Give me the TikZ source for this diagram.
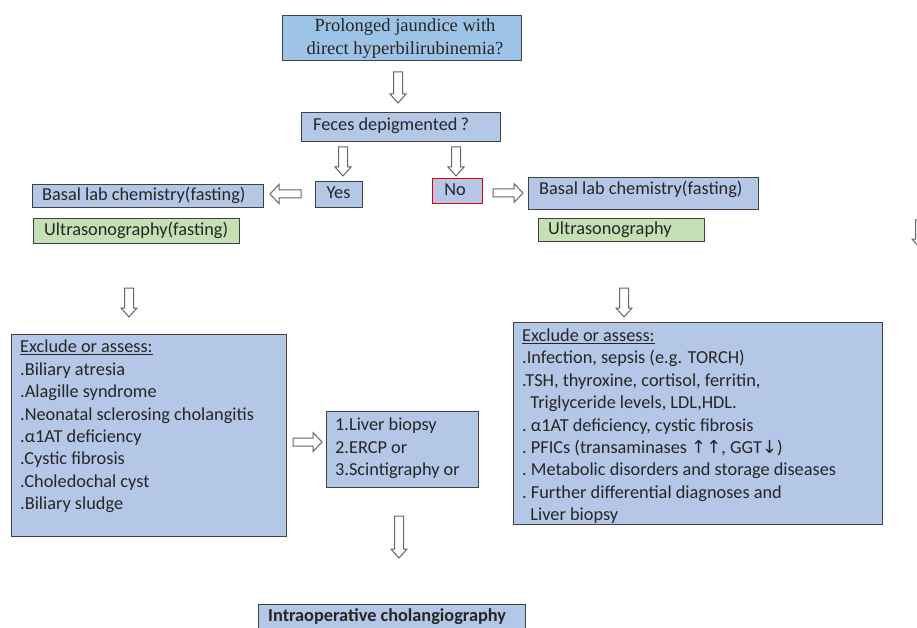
\documentclass[tikz,border=0pt]{standalone}
\usepackage{fontspec}
\setmainfont{Carlito}
\newfontfamily\serifb{Liberation Serif}
\newfontfamily\dvs{DejaVu Sans}
\definecolor{boxblue}{HTML}{B4C7E7}
\definecolor{topblue}{HTML}{9DC3E6}
\definecolor{boxgreen}{HTML}{C5E0B4}
\definecolor{edgecol}{HTML}{404040}
\definecolor{txtcol}{HTML}{262626}
\begin{document}
\begin{tikzpicture}[x=1pt,y=-1pt,
  box/.style={draw=edgecol, line width=0.9pt, fill=boxblue, inner sep=0pt, outer sep=0pt},
  gbox/.style={box, fill=boxgreen},
  txt/.style={font=\fontsize{18.3}{22.4}\selectfont, text=txtcol, inner sep=0pt, align=left},
  arrbody/.style={draw=black!60, line width=1pt, fill=white, line join=miter},
  pics/darr/.style={code={\draw[arrbody] (-4.5,0) -- (-4.5,{#1-9}) -- (-8,{#1-9}) -- (0,#1) -- (8,{#1-9}) -- (4.5,{#1-9}) -- (4.5,0) -- cycle;}},
  pics/rarr/.style={code={\draw[arrbody] (0,-4) -- ({#1-9},-4) -- ({#1-9},-9.5) -- (#1,0) -- ({#1-9},9.5) -- ({#1-9},4) -- (0,4) -- cycle;}},
  pics/larr/.style={code={\draw[arrbody] (0,-4) -- ({-#1+9},-4) -- ({-#1+9},-9.5) -- (-#1,0) -- ({-#1+9},9.5) -- ({-#1+9},4) -- (0,4) -- cycle;}}
]
\useasboundingbox (0,0) rectangle (917,628);
\clip (0,0) rectangle (917,628);

% top question
\node[box, fill=topblue, minimum width=239pt, minimum height=45pt] (top) at (401.5,37.5) {};
\node[txt, font=\serifb\fontsize{18.5}{23}\selectfont, align=center] (toptxt) at (405,38.5) {Prolonged jaundice with\\direct hyperbilirubinemia?};

% feces
\node[box, minimum width=199pt, minimum height=29pt] (feces) at (400.5,126.5) {};
\node[txt, anchor=west] (fecestxt) at (313,126) {Feces depigmented\,?};

% yes / no
\node[box, minimum width=47pt, minimum height=26pt] (yes) at (338.5,194) {};
\node[txt] (yestxt) at (338.5,193) {Yes};
\node[box, draw=red!90!black, minimum width=50pt, minimum height=25pt] (no) at (457,190.5) {};
\node[txt] (notxt) at (455,189.5) {No};

% left branch
\node[box, minimum width=231pt, minimum height=23pt] (basalL) at (147.5,195.5) {};
\node[txt, anchor=west] (basalLtxt) at (42,195) {Basal lab chemistry(fasting)};
\node[gbox, minimum width=206pt, minimum height=25pt] (usL) at (136,230.5) {};
\node[txt, anchor=west] (usLtxt) at (44,230) {Ultrasonography(fasting)};

% right branch
\node[box, minimum width=230pt, minimum height=32pt] (basalR) at (643,193) {};
\node[txt, anchor=west] (basalRtxt) at (539,189.5) {Basal lab chemistry(fasting)};
\node[gbox, minimum width=166pt, minimum height=23pt] (usR) at (621,229.5) {};
\node[txt, anchor=west] (usRtxt) at (548,229.5) {Ultrasonography};

% big left box
\node[box, anchor=north west, minimum width=275pt, minimum height=202pt] (bigL) at (11,334) {};
\node[txt, anchor=north west] (bigLtxt) at (20,340) {\underline{Exclude or assess:}\\
.Biliary atresia\\
.Alagille syndrome\\
.Neonatal sclerosing cholangitis\\
.α1AT deficiency\\
.Cystic fibrosis\\
.Choledochal cyst\\
.Biliary sludge};

% big right box
\node[box, anchor=north west, minimum width=369pt, minimum height=202pt] (bigR) at (513,322) {};
\node[txt, anchor=north west] (bigRtxt) at (522,328.5) {\underline{Exclude or assess:}\\
.Infection, sepsis (e.g. TORCH)\\
.TSH, thyroxine, cortisol, ferritin,\\
\ \ Triglyceride levels, LDL,HDL.\\
.\ α1AT deficiency, cystic fibrosis\\
.\ PFICs (transaminases {\dvs\fontsize{18}{22.4}\selectfont↑↑}, GGT{\dvs\fontsize{18}{22.4}\selectfont↓})\\
.\ Metabolic disorders and storage diseases\\
.\ Further differential diagnoses and\\
\ \ Liver biopsy};

% liver biopsy box
\node[box, anchor=north west, minimum width=152pt, minimum height=76pt] (liver) at (326,411) {};
\node[txt, anchor=north west] (livertxt) at (335,418) {1.Liver biopsy\\2.ERCP or\\3.Scintigraphy or};

% intraoperative
\node[box, anchor=north west, minimum width=267pt, minimum height=40pt] (intra) at (258,604) {};
\node[txt, anchor=west, font=\bfseries\fontsize{18.3}{22.4}\selectfont] (intratxt) at (268,617) {Intraoperative cholangiography};

% block arrows
\pic at (398,72) {darr=31};
\pic at (343,147) {darr=29};
\pic at (456,147) {darr=29};
\pic at (129,288) {darr=29};
\pic at (624,288) {darr=29};
\pic at (399,516) {darr=42};
\pic at (920,220) {darr=28};
\pic at (301,194) {larr=31};
\pic at (493,193) {rarr=30};
\pic at (293,442) {rarr=29};
\end{tikzpicture}
\end{document}
